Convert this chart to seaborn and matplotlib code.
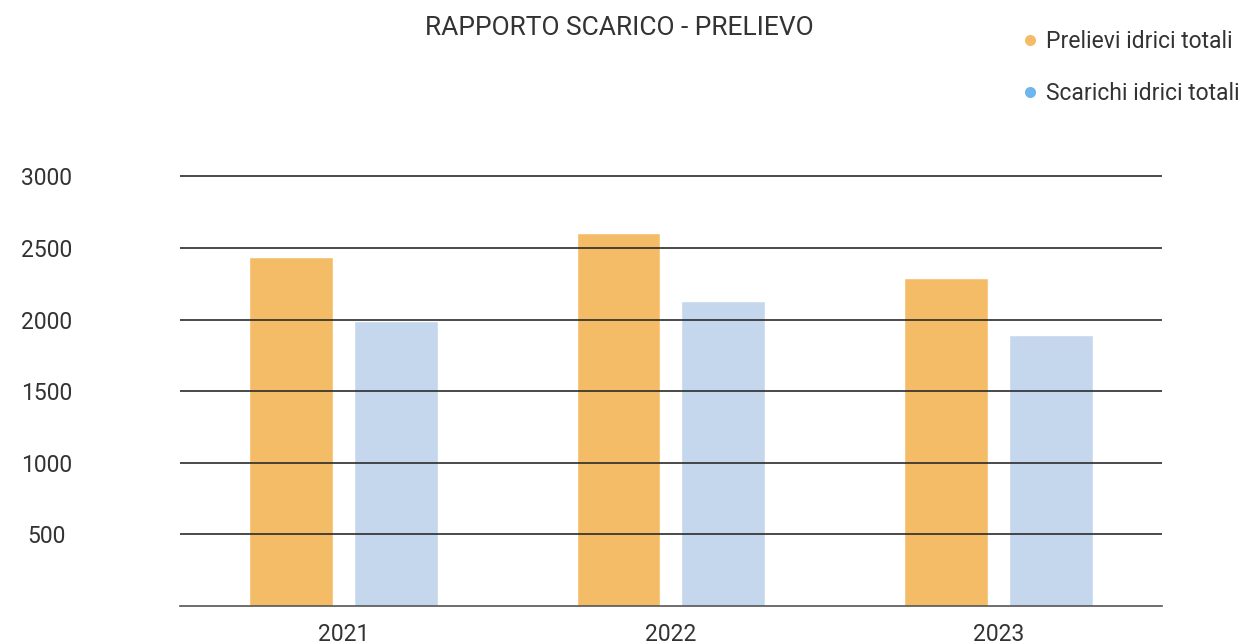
import pandas as pd
import matplotlib.pyplot as plt
import seaborn as sns
from matplotlib.lines import Line2D

# Data
anni = ['2021', '2022', '2023']
prelievi = [2435, 2605, 2289]
scarichi = [1989, 2126, 1889]
serie = ['Prelievi idrici totali', 'Scarichi idrici totali']

df = pd.DataFrame({
    'Anno': anni * 2,
    'Valore': prelievi + scarichi,
    'Serie': [serie[0]] * 3 + [serie[1]] * 3,
})

sns.set_style("white")
plt.rcParams['font.family'] = ['Roboto', 'DejaVu Sans']
text_col = '#333333'

fig = plt.figure(figsize=(12.47, 6.44), dpi=100)
ax = fig.add_axes([0.1443, 0.059, 0.7875, 0.6695])

sns.barplot(data=df, x='Anno', y='Valore', hue='Serie', ax=ax,
            palette=['#F5BC67', '#C5D7EC'], width=0.64, gap=0.2,
            saturation=1, legend=False, zorder=1)

ax.set_xlim(-0.5, 2.5)
ax.set_ylim(0, 3010)
ax.set_yticks([500, 1000, 1500, 2000, 2500, 3000])
ax.set_yticklabels(['500', '1000', '1500', '2000', '2500', '3000'])
for t in ax.get_yticklabels():
    t.set_horizontalalignment('center')
ax.tick_params(axis='y', length=0, pad=96, labelsize=16.5, labelcolor=text_col)
ax.tick_params(axis='x', length=0, pad=12, labelsize=16.5, labelcolor=text_col)
ax.set_xlabel('')
ax.set_ylabel('')

# horizontal lines
for y in [500, 1000, 1500, 2000, 2500, 3000]:
    ax.axhline(y, color='#2b2b2b', lw=1.2, zorder=2)
for s in ['top', 'right', 'left']:
    ax.spines[s].set_visible(False)
ax.spines['bottom'].set_color('#555555')
ax.spines['bottom'].set_linewidth(1.2)

fig.text(0.497, 0.957, 'RAPPORTO SCARICO - PRELIEVO', ha='center', va='center',
         fontsize=19, color=text_col)

handles = [Line2D([0], [0], marker='o', color='w', markerfacecolor=c, markersize=9)
           for c in ['#F5BC67', '#6DB6EE']]
fig.legend(handles, serie, loc='upper left', bbox_to_anchor=(0.802, 0.985),
           frameon=False, fontsize=16.5, labelcolor=text_col, handlelength=0.8,
           handletextpad=0.3, labelspacing=1.26)

plt.savefig('out.png', dpi=100)
